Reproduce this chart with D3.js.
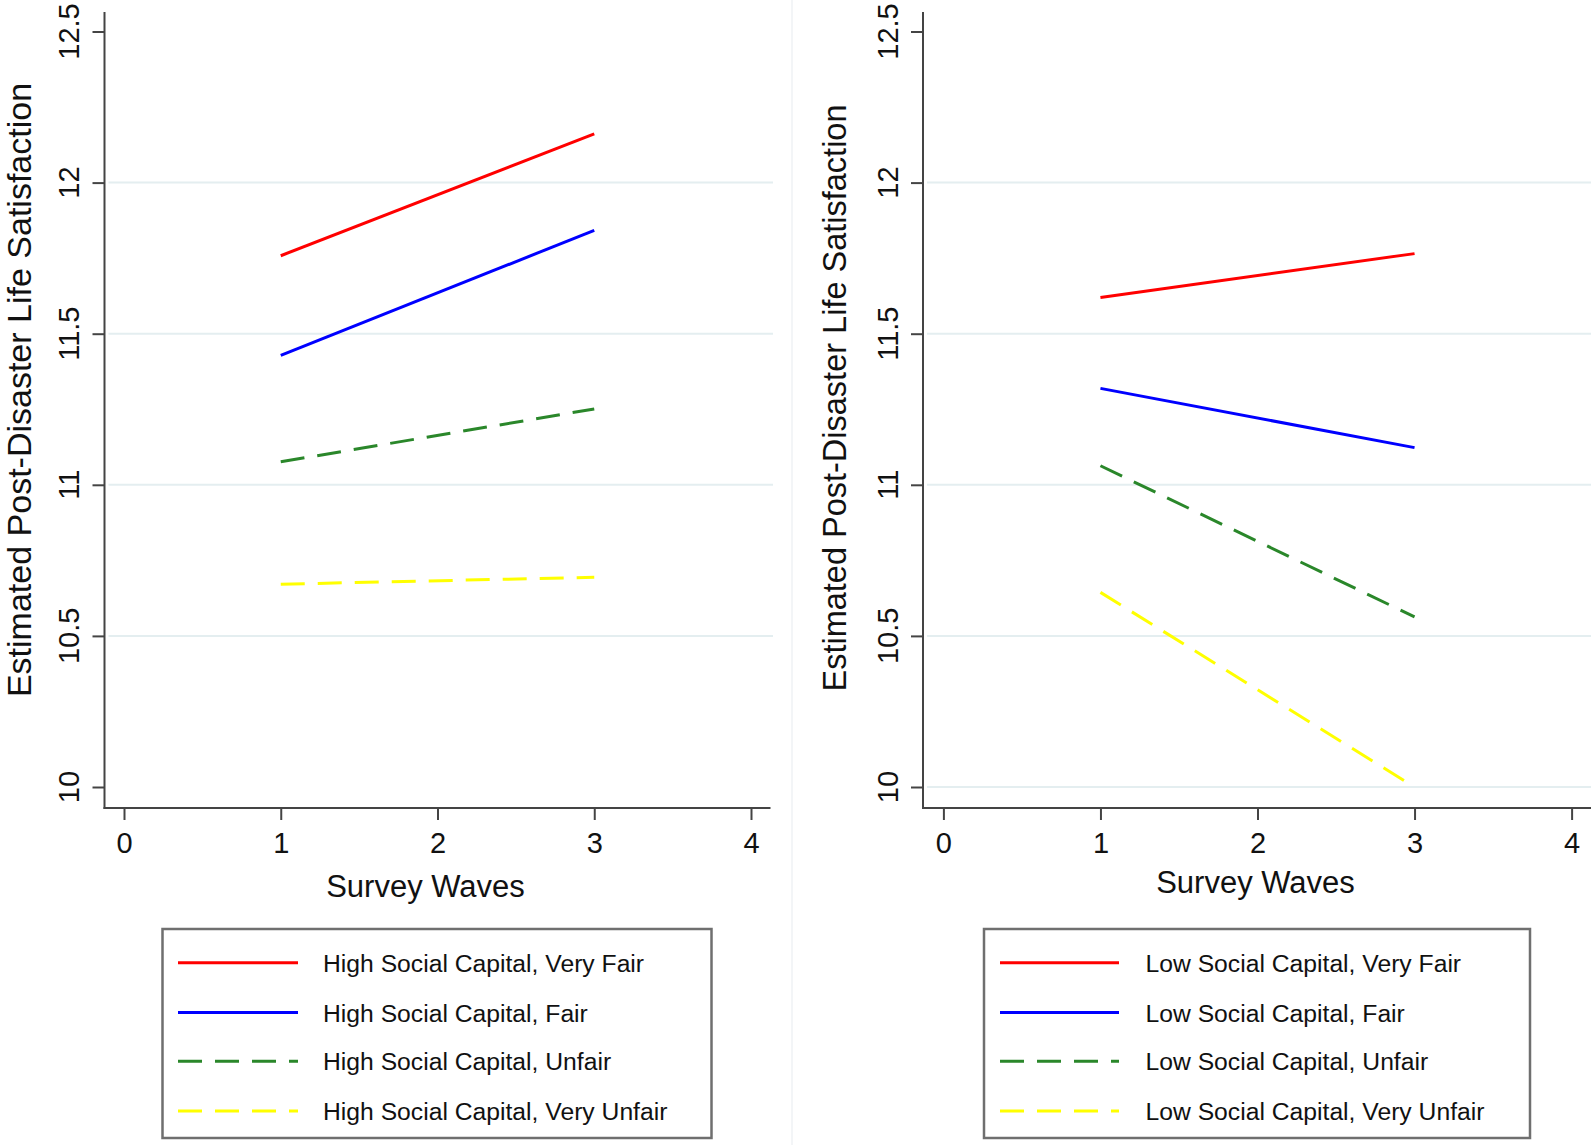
<!DOCTYPE html>
<html>
<head>
<meta charset="utf-8">
<script src="https://cdn.jsdelivr.net/npm/d3@7/dist/d3.min.js"></script>
<style>
  html, body { margin: 0; padding: 0; background: #fff; }
  svg { display: block; font-family: "Liberation Sans", Arial, Helvetica, sans-serif; }
</style>
</head>
<body>
<svg id="chart" width="1594" height="1145"></svg>
<script>
// ---- data ----
const waves = [1, 3];
const xTicks = [0, 1, 2, 3, 4];
const yTicks = [10, 10.5, 11, 11.5, 12, 12.5];
const yTickLabels = ["10", "10.5", "11", "11.5", "12", "12.5"];
const groupsFairness = ["Very Fair", "Fair", "Unfair", "Very Unfair"];
const seriesColors = ["#ff0000", "#0000ff", "#2a872a", "#ffff00"];
const seriesDashed = [false, false, true, true];

const highLabels = ["High Social Capital, Very Fair", "High Social Capital, Fair",
                    "High Social Capital, Unfair", "High Social Capital, Very Unfair"];
const highVeryFair   = [11.758, 12.161];
const highFair       = [11.428, 11.842];
const highUnfair     = [11.076, 11.251];
const highVeryUnfair = [10.671, 10.694];

const lowLabels = ["Low Social Capital, Very Fair", "Low Social Capital, Fair",
                   "Low Social Capital, Unfair", "Low Social Capital, Very Unfair"];
const lowVeryFair   = [11.620, 11.765];
const lowFair       = [11.319, 11.123];
const lowUnfair     = [11.063, 10.563];
const lowVeryUnfair = [10.644, 10.000];

const xTitle = "Survey Waves";
const yTitle = "Estimated Post-Disaster Life Satisfaction";

// ---- drawing ----
const svg = d3.select("#chart");

const panels = [
  { series: [highVeryFair, highFair, highUnfair, highVeryUnfair], labels: highLabels,
    axisX: 104.5, x0: 124, x4: 751, xEnd: 770.5, gridEnd: 773,
    grid: [10.5, 11, 11.5, 12], tickBase: 79, yTitleX: 31, yTitleY: 390, yTitleSize: 34,
    xTitleX: 425.5, xTitleY: 897,
    legend: { x: 162.5, y: 929, w: 549, h: 209, lx1: 178, lx2: 298, tx: 323 } },
  { series: [lowVeryFair, lowFair, lowUnfair, lowVeryUnfair], labels: lowLabels,
    axisX: 923, x0: 943.4, x4: 1571.6, xEnd: 1591, gridEnd: 1591,
    grid: [10, 10.5, 11, 11.5, 12], tickBase: 897.5, yTitleX: 846, yTitleY: 398, yTitleSize: 32.5,
    xTitleX: 1255.5, xTitleY: 893,
    legend: { x: 984, y: 929, w: 546, h: 209, lx1: 1000, lx2: 1119, tx: 1145.5 } }
];

const y = d3.scaleLinear().domain([10, 12.5]).range([787, 31.5]);
const yTop = 12, xAxisY = 808;

// faint panel separator
svg.append("line").attr("x1", 792).attr("x2", 792).attr("y1", 0).attr("y2", 1145)
  .attr("stroke", "#f3f5f7").attr("stroke-width", 2);

panels.forEach(p => {
  const x = d3.scaleLinear().domain([0, 4]).range([p.x0, p.x4]);
  const g = svg.append("g");

  // gridlines
  g.selectAll(".grid").data(p.grid).enter().append("line")
    .attr("x1", p.axisX + 4).attr("x2", p.gridEnd)
    .attr("y1", d => y(d)).attr("y2", d => y(d))
    .attr("stroke", "#e4eef0").attr("stroke-width", 2);

  // y axis
  const yAxis = d3.axisLeft(y).tickValues(yTicks).tickSize(12).tickSizeOuter(0)
    .tickFormat((d, i) => yTickLabels[i]);
  const ya = g.append("g").attr("transform", `translate(${p.axisX},0)`).call(yAxis);
  ya.select(".domain").remove();
  ya.selectAll(".tick line").attr("stroke", "#444").attr("stroke-width", 2);
  ya.selectAll(".tick text").remove();
  g.append("line").attr("x1", p.axisX).attr("x2", p.axisX).attr("y1", yTop).attr("y2", xAxisY + 1)
    .attr("stroke", "#444").attr("stroke-width", 2);
  g.selectAll(".ylab").data(yTicks).enter().append("text")
    .attr("transform", d => `translate(${p.tickBase},${y(d)}) rotate(-90)`)
    .attr("text-anchor", "middle").attr("font-size", 29).attr("fill", "#111")
    .text((d, i) => yTickLabels[i]);

  // x axis
  const xAxis = d3.axisBottom(x).tickValues(xTicks).tickSize(12).tickSizeOuter(0)
    .tickFormat(d3.format("d"));
  const xa = g.append("g").attr("transform", `translate(0,${xAxisY})`).call(xAxis);
  xa.select(".domain").remove();
  xa.selectAll(".tick line").attr("stroke", "#444").attr("stroke-width", 2);
  xa.selectAll(".tick text").attr("font-size", 29).attr("fill", "#111")
    .attr("y", 45).attr("dy", 0).attr("font-family", "Liberation Sans, Arial, sans-serif");
  g.append("line").attr("x1", p.axisX - 1).attr("x2", p.xEnd).attr("y1", xAxisY).attr("y2", xAxisY)
    .attr("stroke", "#444").attr("stroke-width", 2);

  // titles
  g.append("text").attr("x", p.xTitleX).attr("y", p.xTitleY).attr("text-anchor", "middle")
    .attr("font-size", 31).attr("fill", "#111").text(xTitle);
  g.append("text").attr("transform", `translate(${p.yTitleX},${p.yTitleY}) rotate(-90)`)
    .attr("text-anchor", "middle").attr("font-size", p.yTitleSize).attr("fill", "#111").text(yTitle);

  // lines
  const line = d3.line().x((d, i) => x(waves[i])).y(d => y(d));
  p.series.forEach((s, i) => {
    g.append("path").datum(s).attr("d", line).attr("fill", "none")
      .attr("stroke", seriesColors[i]).attr("stroke-width", 3)
      .attr("stroke-dasharray", seriesDashed[i] ? "24,13" : null);
  });

  // legend
  const L = p.legend;
  g.append("rect").attr("x", L.x).attr("y", L.y).attr("width", L.w).attr("height", L.h)
    .attr("fill", "#fff").attr("stroke", "#6f6f6f").attr("stroke-width", 2.5);
  const rowY = [962.7, 1012.5, 1061.3, 1111];
  p.labels.forEach((lab, i) => {
    g.append("line").attr("x1", L.lx1).attr("x2", L.lx2).attr("y1", rowY[i]).attr("y2", rowY[i])
      .attr("stroke", seriesColors[i]).attr("stroke-width", 3)
      .attr("stroke-dasharray", seriesDashed[i] ? "24,13" : null);
    g.append("text").attr("x", L.tx).attr("y", rowY[i] + 9).attr("font-size", 24.7)
      .attr("fill", "#111").text(lab);
  });
});
</script>
</body>
</html>
